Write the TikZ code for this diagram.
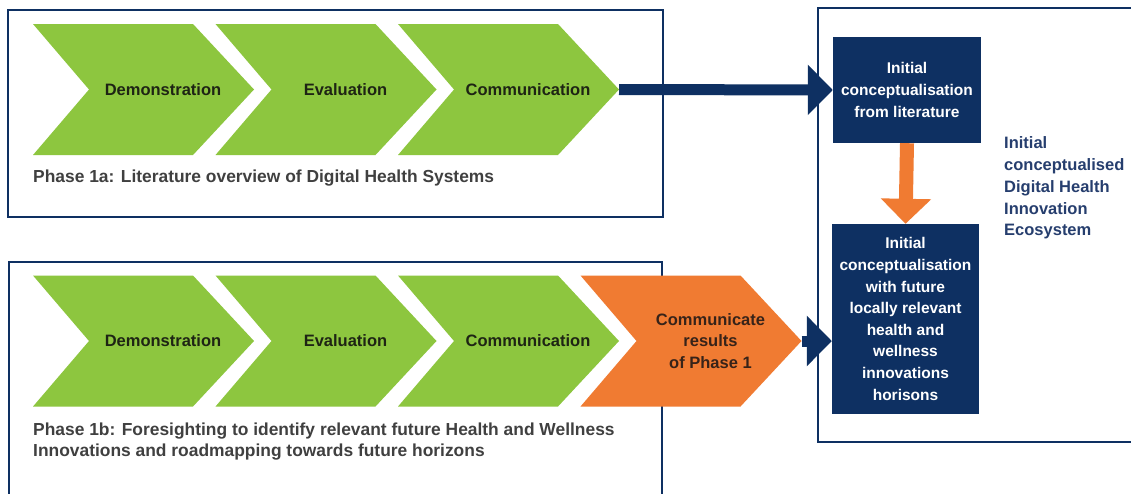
\documentclass[tikz,border=0pt]{standalone}
\usepackage{fontspec}
\setmainfont{Liberation Sans}
\usetikzlibrary{arrows.meta}
\definecolor{chgreen}{RGB}{141,198,63}
\definecolor{chorange}{RGB}{240,123,50}
\definecolor{navy}{RGB}{14,48,98}
\definecolor{rblue}{RGB}{38,62,110}
\definecolor{phgray}{RGB}{64,64,64}
\definecolor{chink}{RGB}{30,36,20}
\definecolor{orink}{RGB}{55,35,25}
% #1 name, #2 left x, #3 middle y, #4 fill, #5 label style, #6 label
\newcommand{\chevshape}[6]{%
  \fill[#4] (#2,#3-65.5) -- (#2+160,#3-65.5) -- (#2+221,#3) -- (#2+160,#3+65.5) -- (#2,#3+65.5) -- (#2+56,#3) -- cycle;
  \coordinate (#1tip) at (#2+221,#3);
  \node[#5] (#1) at (#2+130,#3) {#6};
}
\begin{document}
\begin{tikzpicture}[x=1pt,y=-1pt,
  border/.style={draw=navy, line width=2.5pt},
  chevlabel/.style={font=\fontsize{16.5}{21.5}\selectfont\bfseries, text=chink, align=center, inner sep=0pt},
  orlabel/.style={chevlabel, text=orink},
  phase/.style={font=\fontsize{17.4}{21}\selectfont\bfseries, text=phgray, align=left, anchor=west, inner sep=0pt},
  darkbox/.style={fill=navy, text=white, font=\fontsize{15.5}{21.6}\selectfont\bfseries, align=center, inner sep=0pt},
  sidetext/.style={font=\fontsize{16.5}{21.8}\selectfont\bfseries, text=rblue, align=left, anchor=west, inner sep=0pt},
  navyarrow/.style={draw=navy, line width=11pt, -{Triangle[length=25pt,width=49pt]}},
  orangearrow/.style={draw=chorange, line width=14pt, -{Triangle[length=25pt,width=49pt]}}
]
\useasboundingbox[fill=white] (0,0) rectangle (1131,493);

% frames
\draw[border] (8,10) rectangle (663,217);
\draw[border] (9,500) -- (9,262) -- (662,262) -- (662,500);
\draw[border] (1140,8) -- (818,8) -- (818,442) -- (1140,442);

% phase 1a chevrons
\chevshape{a1}{33}{89.5}{chgreen}{chevlabel}{Demonstration}
\chevshape{a2}{215.5}{89.5}{chgreen}{chevlabel}{Evaluation}
\chevshape{a3}{398}{89.5}{chgreen}{chevlabel}{Communication}
\node[phase] (p1a) at (33,178) {Phase 1a: Literature overview of Digital Health Systems};

% phase 1b chevrons
\chevshape{b1}{33}{341}{chgreen}{chevlabel}{Demonstration}
\chevshape{b2}{215.5}{341}{chgreen}{chevlabel}{Evaluation}
\chevshape{b3}{398}{341}{chgreen}{chevlabel}{Communication}
\chevshape{b4}{580.5}{341}{chorange}{orlabel}{Communicate\\results\\of Phase 1}
\node[phase] (p1b) at (33,441.5) {Phase 1b: Foresighting to identify relevant future Health and Wellness\\Innovations and roadmapping towards future horizons};

% right panel
\node[darkbox, minimum width=148pt, minimum height=106pt] (box1) at (907,90) {Initial\\conceptualisation\\from literature};
\node[darkbox, minimum width=147pt, minimum height=190pt] (box2) at (905.5,319) {Initial\\conceptualisation\\with future\\locally relevant\\health and\\wellness\\innovations\\horisons};
\node[sidetext] (eco) at (1004,188) {Initial\\conceptualised\\Digital Health\\Innovation\\Ecosystem};

% connectors
\draw[navyarrow] (a3tip) -- (box1.west);
\draw[orangearrow] (box1.south) -- (box2.north);
\draw[navyarrow] (b4tip) -- (b4tip -| box2.west);
\end{tikzpicture}
\end{document}
